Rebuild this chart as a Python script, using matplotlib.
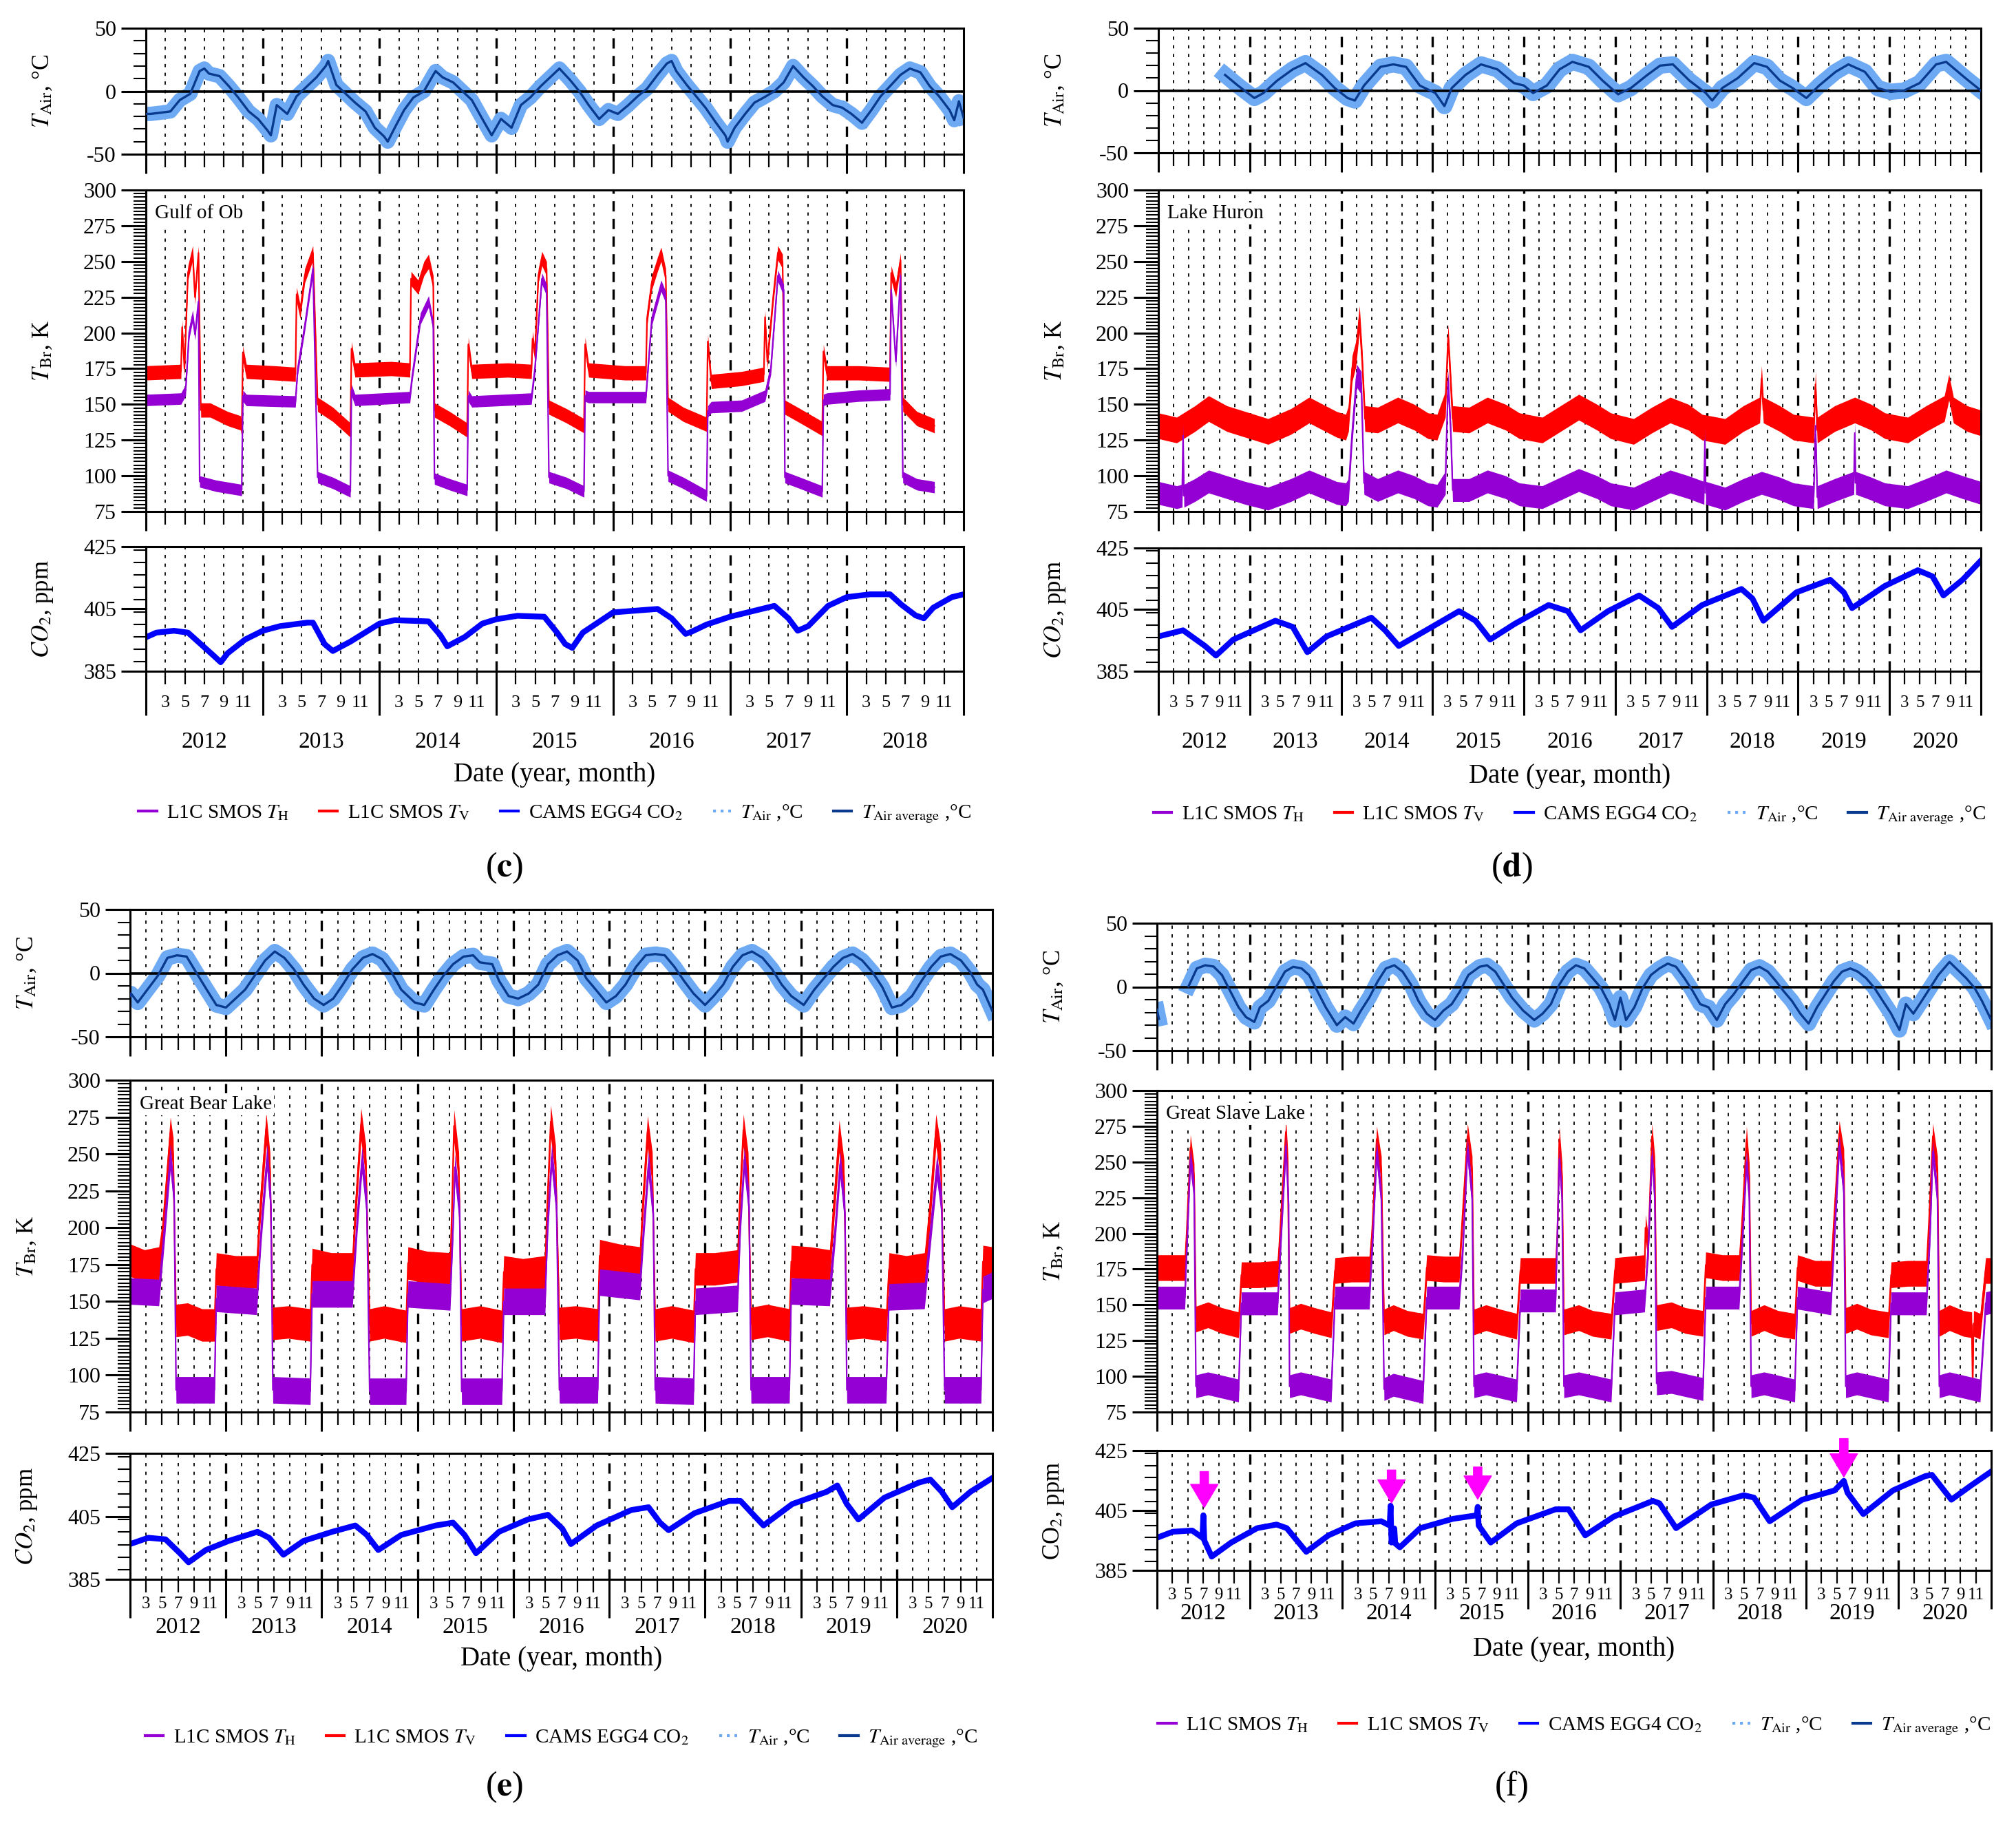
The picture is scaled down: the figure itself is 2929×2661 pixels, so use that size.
import numpy as np
import matplotlib.pyplot as plt
from matplotlib.ticker import FixedLocator, MultipleLocator, NullFormatter, FixedFormatter
from matplotlib.lines import Line2D

plt.rcParams['font.family'] = ['Liberation Serif', 'DejaVu Serif']
plt.rcParams['mathtext.fontset'] = 'stix'
plt.rcParams['axes.unicode_minus'] = False

nan = np.nan

# ---------------- data: (decimal year, value) ----------------
# (c) Gulf of Ob
tair_c = [(2012.00,-18),(2012.04,-18),(2012.13,-17),(2012.21,-16),(2012.29,-7),(2012.38,-2),(2012.46,16),(2012.50,18),
          (2012.54,14),(2012.63,12),(2012.71,4),(2012.79,-5),(2012.88,-16),(2012.96,-22),(2013.04,-31),(2013.07,-35),
          (2013.12,-11),(2013.21,-18),(2013.29,-4),(2013.38,4),(2013.46,11),(2013.54,20),(2013.56,24),(2013.63,5),
          (2013.71,-2),(2013.79,-9),(2013.88,-16),(2013.96,-29),(2014.04,-36),(2014.07,-40),(2014.13,-29),(2014.21,-15),
          (2014.29,-5),(2014.38,0),(2014.46,13),(2014.48,16),(2014.54,11),(2014.63,7),(2014.71,0),(2014.79,-7),
          (2014.88,-22),(2014.96,-35),(2015.04,-22),(2015.13,-29),(2015.21,-11),(2015.29,-5),(2015.38,4),(2015.46,11),
          (2015.54,18),(2015.63,9),(2015.71,0),(2015.79,-11),(2015.88,-22),(2015.96,-15),(2016.04,-18),(2016.13,-11),
          (2016.21,-4),(2016.29,2),(2016.38,13),(2016.46,22),(2016.50,24),(2016.54,16),(2016.63,5),(2016.71,-4),
          (2016.79,-13),(2016.88,-25),(2016.96,-35),(2016.98,-40),(2017.04,-29),(2017.13,-18),(2017.21,-9),(2017.29,-5),
          (2017.38,0),(2017.46,7),(2017.54,20),(2017.63,11),(2017.71,4),(2017.79,-4),(2017.88,-11),(2017.96,-13),
          (2018.04,-18),(2018.13,-25),(2018.21,-15),(2018.29,-4),(2018.38,5),(2018.46,13),(2018.54,18),(2018.63,15),
          (2018.71,4),(2018.79,-4),(2018.88,-15),(2018.92,-23),(2018.96,-8),(2019.00,-21)]
tv_c = [(2012.00,172),(2012.30,173),(2012.31,204),(2012.33,175),(2012.36,242),(2012.40,256),(2012.42,225),(2012.45,256),
        (2012.47,146),(2012.55,146),(2012.70,140),(2012.81,137),(2012.82,132),(2012.83,186),(2012.86,173),
        (2013.10,172),(2013.28,171),(2013.29,227),(2013.32,215),(2013.36,240),(2013.43,256),(2013.47,150),(2013.60,143),
        (2013.75,132),(2013.76,189),(2013.79,174),(2014.10,175),(2014.26,174),(2014.27,238),(2014.33,232),(2014.38,245),
        (2014.42,250),(2014.46,235),(2014.47,146),(2014.60,140),(2014.75,132),(2014.76,192),(2014.79,173),
        (2015.10,174),(2015.30,173),(2015.31,196),(2015.33,185),(2015.36,240),(2015.39,252),(2015.43,245),(2015.45,148),
        (2015.60,142),(2015.75,135),(2015.76,192),(2015.79,174),(2016.10,172),(2016.28,172),(2016.29,210),(2016.33,235),
        (2016.38,248),(2016.41,255),(2016.45,240),(2016.47,150),(2016.60,143),(2016.80,136),(2016.81,194),(2016.84,166),
        (2017.10,168),(2017.29,171),(2017.30,211),(2017.32,180),(2017.37,225),(2017.41,256),(2017.45,250),(2017.47,148),
        (2017.60,142),(2017.79,133),(2017.80,187),(2017.83,172),(2018.10,172),(2018.37,171),(2018.38,242),(2018.42,230),
        (2018.46,251),(2018.48,150),(2018.60,140),(2018.75,135)]
th_c = [(2012.00,153),(2012.30,154),(2012.34,160),(2012.37,200),(2012.40,212),(2012.42,199),(2012.45,222),(2012.46,96),
        (2012.60,93),(2012.82,90),(2012.83,156),(2012.86,153),(2013.28,152),(2013.30,175),(2013.36,205),(2013.43,245),
        (2013.47,99),(2013.60,95),(2013.75,89),(2013.76,160),(2013.79,153),(2014.26,155),(2014.28,170),(2014.35,210),
        (2014.42,222),(2014.46,205),(2014.47,98),(2014.60,94),(2014.75,90),(2014.76,156),(2014.79,152),(2015.30,154),
        (2015.33,175),(2015.39,238),(2015.43,230),(2015.45,99),(2015.60,95),(2015.75,89),(2015.76,156),(2015.79,155),
        (2016.28,155),(2016.33,209),(2016.41,233),(2016.45,225),(2016.47,100),(2016.60,95),(2016.80,86),(2016.81,145),
        (2016.84,148),(2017.10,149),(2017.30,156),(2017.35,175),(2017.41,240),(2017.46,230),(2017.47,99),(2017.60,95),
        (2017.79,89),(2017.80,153),(2017.83,154),(2018.10,156),(2018.37,157),(2018.38,230),(2018.42,180),(2018.46,240),
        (2018.48,99),(2018.60,94),(2018.75,92)]
co2_c = [(2012.00,395.9),(2012.09,397.4),(2012.24,398.0),(2012.36,397.4),(2012.47,393.7),(2012.58,390.0),(2012.64,387.9),
         (2012.70,390.8),(2012.85,395.2),(2013.00,398.0),(2013.15,399.5),(2013.38,400.6),(2013.43,400.6),(2013.53,393.7),
         (2013.60,391.5),(2013.75,394.5),(2014.00,400.3),(2014.13,401.4),(2014.42,401.0),(2014.52,396.6),(2014.58,393.0),
         (2014.73,396.0),(2014.88,400.3),(2015.00,401.7),(2015.18,402.8),(2015.41,402.5),(2015.52,397.4),(2015.59,393.7),
         (2015.65,392.5),(2015.74,397.4),(2016.00,403.9),(2016.38,405.0),(2016.50,402.0),(2016.62,397.0),(2016.66,397.5),
         (2016.80,400.0),(2017.00,402.5),(2017.38,406.0),(2017.50,402.0),(2017.58,398.0),(2017.67,399.5),(2017.84,406.0),
         (2018.00,408.8),(2018.20,409.7),(2018.37,409.7),(2018.47,406.3),(2018.59,402.9),(2018.66,402.0),(2018.74,405.4),
         (2018.90,408.8),(2019.00,409.7)]

# (d) Lake Huron
tair_d = [(2012.73,12.5),(2012.87,4),(2013.05,-6),(2013.15,-2),(2013.30,8),(2013.47,17),(2013.61,22),(2013.79,12.5),
          (2013.93,2),(2014.07,-6),(2014.15,-8),(2014.25,4),(2014.43,19),(2014.57,21),(2014.71,19),(2014.86,4),
          (2015.03,-2),(2015.13,-12.5),(2015.21,2),(2015.36,12.5),(2015.53,21),(2015.71,17),(2015.89,6),(2016.00,4),
          (2016.10,-2),(2016.25,4),(2016.39,17),(2016.53,23),(2016.71,19),(2016.86,8),(2017.03,-3),(2017.17,2),
          (2017.35,12.5),(2017.49,20),(2017.63,21),(2017.81,8),(2017.99,-2),(2018.06,-8),(2018.17,2),(2018.34,10),
          (2018.52,22),(2018.66,19),(2018.80,8),(2018.94,2),(2019.09,-6),(2019.23,4),(2019.41,15),(2019.55,21),
          (2019.73,15),(2019.87,2),(2020.01,-1),(2020.16,0),(2020.33,6),(2020.51,21),(2020.62,23),(2020.83,10),(2021.00,0)]
tv_d = [(2012.00,135),(2012.20,132),(2012.40,140),(2012.55,147),(2012.75,140),(2012.95,136),(2013.20,131),(2013.45,138),
        (2013.65,146),(2013.80,141),(2013.95,136),(2014.05,134),(2014.08,140),(2014.12,175),(2014.16,185),(2014.20,210),
        (2014.23,180),(2014.26,140),(2014.40,139),(2014.62,146),(2014.80,141),(2014.95,135),(2015.05,134),(2015.14,150),
        (2015.17,197),(2015.19,175),(2015.22,140),(2015.40,139),(2015.60,146),(2015.80,141),(2015.95,135),(2016.20,132),
        (2016.40,140),(2016.60,148),(2016.80,141),(2016.95,135),(2017.20,131),(2017.40,139),(2017.60,146),(2017.80,141),
        (2017.95,134),(2018.20,131),(2018.40,140),(2018.58,146),(2018.60,168),(2018.62,146),(2018.80,140),(2018.95,134),
        (2019.17,132),(2019.19,164),(2019.21,132),(2019.40,140),(2019.62,146),(2019.80,141),(2019.95,135),(2020.20,132),
        (2020.40,140),(2020.60,147),(2020.65,162),(2020.70,146),(2020.85,140),(2021.00,137)]
th_d = [(2012.00,88),(2012.20,85),(2012.26,86),(2012.27,128),(2012.28,86),(2012.40,90),(2012.55,96),(2012.75,92),
        (2012.95,88),(2013.20,84),(2013.45,90),(2013.65,96),(2013.80,92),(2013.95,88),(2014.05,87),(2014.08,90),
        (2014.12,130),(2014.17,170),(2014.22,165),(2014.25,95),(2014.40,90),(2014.62,96),(2014.80,92),(2014.95,87),
        (2015.05,86),(2015.14,95),(2015.17,166),(2015.20,130),(2015.22,90),(2015.40,90),(2015.60,96),(2015.80,92),
        (2015.95,87),(2016.20,85),(2016.40,91),(2016.60,97),(2016.80,92),(2016.95,87),(2017.20,84),(2017.40,90),
        (2017.60,96),(2017.80,92),(2017.97,88),(2017.98,125),(2017.99,88),(2018.20,84),(2018.40,90),(2018.60,95),
        (2018.80,91),(2018.95,87),(2019.17,85),(2019.19,135),(2019.21,85),(2019.40,90),(2019.61,95),(2019.62,130),
        (2019.63,95),(2019.80,91),(2019.95,87),(2020.20,85),(2020.40,90),(2020.62,96),(2020.80,92),(2021.00,88)]
co2_d = [(2012.00,396.3),(2012.27,398.3),(2012.51,393.2),(2012.63,390.1),(2012.82,395.3),(2013.28,401.4),(2013.47,399.4),
         (2013.63,391.2),(2013.84,396.3),(2014.33,402.4),(2014.48,398.3),(2014.63,393.2),(2014.93,398.3),(2015.29,404.5),
         (2015.47,401.4),(2015.63,395.3),(2015.90,400.4),(2016.27,406.5),(2016.48,404.5),(2016.62,398.3),(2016.92,404.5),
         (2017.26,409.6),(2017.47,405.5),(2017.62,399.4),(2017.95,406.5),(2018.38,411.7),(2018.50,408.6),(2018.62,401.4),
         (2018.98,410.6),(2019.35,414.7),(2019.50,410.6),(2019.59,405.5),(2019.95,412.7),(2020.31,417.8),(2020.47,415.8),
         (2020.59,409.6),(2020.80,414.7),(2021.00,420.9)]

# (e) Great Bear Lake
tair_e = [(2012.00,-18),(2012.01,-16),(2012.08,-23),(2012.18,-13),(2012.29,-2),(2012.39,12),(2012.49,14),(2012.59,13),
          (2012.69,0.5),(2012.80,-13),(2012.90,-25),(2013.00,-27),(2013.10,-20),(2013.20,-13),(2013.30,-2),(2013.41,10),
          (2013.51,17),(2013.61,12),(2013.71,3),(2013.81,-9),(2013.92,-20),(2014.02,-25),(2014.12,-20),(2014.22,-9),
          (2014.32,3),(2014.43,12),(2014.53,15),(2014.63,11),(2014.73,0.5),(2014.83,-13),(2014.97,-23),(2015.07,-25),
          (2015.17,-13),(2015.27,-2),(2015.37,7),(2015.48,13),(2015.58,14),(2015.65,8.5),(2015.78,7),(2015.85,-6),
          (2015.95,-18),(2016.05,-20),(2016.16,-16),(2016.26,-9),(2016.36,7),(2016.46,14),(2016.56,17),(2016.67,10),
          (2016.76,-4),(2016.86,-13),(2016.97,-23),(2017.07,-18),(2017.17,-9),(2017.28,5),(2017.38,14),(2017.48,15),
          (2017.58,14),(2017.68,5),(2017.78,-6),(2017.88,-16),(2018.00,-25),(2018.09,-18),(2018.19,-9),(2018.29,5),
          (2018.39,14),(2018.49,17),(2018.60,12),(2018.70,3),(2018.80,-9),(2018.90,-18),(2019.03,-25),(2019.14,-13),
          (2019.24,-4),(2019.34,5),(2019.44,12),(2019.54,15),(2019.64,10),(2019.75,0.5),(2019.85,-11),(2019.95,-27),
          (2020.05,-25),(2020.16,-18),(2020.26,-6),(2020.36,5),(2020.46,13),(2020.56,15),(2020.67,10),(2020.77,0.5),
          (2020.84,-9),(2020.90,-13),(2021.00,-30)]
tv_e = [(2012.00,178),(2012.15,174),(2012.30,176),(2012.33,190),(2012.38,230),(2012.42,264),(2012.45,250),(2012.48,137),
        (2012.60,138),(2012.75,134),(2012.88,134),(2012.90,172),(2013.10,170),(2013.32,170),(2013.35,206),(2013.42,267),
        (2013.46,240),(2013.49,135),(2013.65,136),(2013.88,134),(2013.90,175),(2014.10,172),(2014.32,172),(2014.35,210),
        (2014.41,270),(2014.46,245),(2014.50,134),(2014.65,136),(2014.88,133),(2014.90,176),(2015.10,173),(2015.34,172),
        (2015.36,215),(2015.38,269),(2015.43,240),(2015.46,134),(2015.65,136),(2015.88,133),(2015.90,170),(2016.10,168),
        (2016.33,170),(2016.35,210),(2016.39,272),(2016.44,245),(2016.48,135),(2016.65,136),(2016.88,134),(2016.90,181),
        (2017.10,178),(2017.32,176),(2017.35,215),(2017.40,265),(2017.45,240),(2017.48,134),(2017.65,136),(2017.88,133),
        (2017.90,172),(2018.10,172),(2018.34,174),(2018.36,215),(2018.40,266),(2018.45,240),(2018.48,135),(2018.65,137),
        (2018.88,134),(2018.90,177),(2019.10,176),(2019.30,174),(2019.34,210),(2019.40,262),(2019.45,235),(2019.48,135),
        (2019.65,136),(2019.89,134),(2019.92,172),(2020.10,170),(2020.29,172),(2020.34,206),(2020.41,266),(2020.46,245),
        (2020.50,134),(2020.65,136),(2020.88,134),(2020.90,177),(2021.00,176)]
th_e = [(2012.00,157),(2012.30,156),(2012.36,200),(2012.42,248),(2012.46,220),(2012.48,90),(2012.88,90),(2012.90,152),
        (2013.32,150),(2013.37,200),(2013.43,248),(2013.47,215),(2013.49,90),(2013.88,89),(2013.90,155),(2014.32,155),
        (2014.37,205),(2014.42,246),(2014.47,215),(2014.50,89),(2014.88,89),(2014.90,155),(2015.34,153),(2015.37,200),
        (2015.39,241),(2015.44,210),(2015.46,89),(2015.88,89),(2015.90,150),(2016.33,150),(2016.36,205),(2016.40,248),
        (2016.45,215),(2016.48,90),(2016.88,90),(2016.90,163),(2017.32,160),(2017.36,200),(2017.41,243),(2017.46,210),
        (2017.48,90),(2017.88,89),(2017.90,150),(2018.34,152),(2018.37,205),(2018.41,246),(2018.46,215),(2018.48,90),
        (2018.88,90),(2018.90,157),(2019.30,156),(2019.36,200),(2019.41,243),(2019.46,210),(2019.48,90),(2019.89,90),
        (2019.92,153),(2020.29,154),(2020.35,195),(2020.42,241),(2020.47,215),(2020.50,90),(2020.88,90),(2020.90,158),
        (2021.00,161)]
co2_e = [(2012.00,396.2),(2012.19,398.2),(2012.37,397.7),(2012.52,393.3),(2012.61,390.4),(2012.79,394.3),(2013.03,397.2),
         (2013.33,400.1),(2013.45,398.2),(2013.60,392.8),(2013.81,397.2),(2014.11,400.1),(2014.35,402.1),(2014.47,399.1),
         (2014.59,394.3),(2014.83,399.1),(2015.19,402.1),(2015.37,403.0),(2015.49,399.1),(2015.61,393.3),(2015.85,400.1),
         (2016.15,404.0),(2016.36,405.5),(2016.51,401.1),(2016.60,396.2),(2016.87,402.1),(2017.23,407.0),(2017.41,407.9),
         (2017.53,403.0),(2017.62,400.6),(2017.89,406.0),(2018.25,409.9),(2018.37,409.9),(2018.52,405.0),(2018.61,402.1),
         (2018.91,408.9),(2019.27,412.8),(2019.38,414.8),(2019.48,408.9),(2019.60,404.0),(2019.87,410.9),(2020.23,415.7),
         (2020.35,416.7),(2020.47,412.8),(2020.58,407.9),(2020.77,412.8),(2021.00,417.2)]

# (f) Great Slave Lake
tair_f = [(2012.00,-18),(2012.02,-25),(2012.03,nan),(2012.34,0.5),(2012.43,14.5),(2012.52,17),(2012.61,16),(2012.70,9.4),
          (2012.79,-3.3),(2012.88,-16),(2012.96,-23.7),(2013.05,-27.5),(2013.11,-16),(2013.20,-11),(2013.30,1.8),
          (2013.38,12),(2013.47,15.8),(2013.56,14.5),(2013.64,9.4),(2013.73,-3.3),(2013.82,-16),(2013.94,-30),
          (2014.03,-23.7),(2014.12,-28.8),(2014.20,-18.6),(2014.29,-8.4),(2014.38,4.3),(2014.47,14.5),(2014.56,17),
          (2014.65,12),(2014.74,1.8),(2014.82,-11),(2014.91,-21),(2015.00,-26),(2015.09,-18.6),(2015.18,-13.5),
          (2015.27,-3.3),(2015.36,9.4),(2015.48,15.8),(2015.56,17),(2015.65,12),(2015.74,1.8),(2015.83,-8.4),
          (2015.95,-18.6),(2016.07,-26),(2016.16,-21),(2016.25,-13.5),(2016.34,1.8),(2016.43,12),(2016.52,17),
          (2016.61,14.5),(2016.70,6.9),(2016.79,-0.8),(2016.88,-13.5),(2016.94,-26),(2017.00,-8.4),(2017.06,-26),
          (2017.15,-16),(2017.24,-0.8),(2017.33,9.4),(2017.42,14.5),(2017.51,18.3),(2017.60,15.8),(2017.69,6.9),
          (2017.78,-3.3),(2017.86,-13.5),(2017.95,-16),(2018.04,-26),(2018.13,-13.5),(2018.22,-5.9),(2018.32,4.3),
          (2018.41,13.2),(2018.50,15.8),(2018.59,12),(2018.68,4.3),(2018.76,-3.3),(2018.85,-11),(2018.94,-21),
          (2019.03,-28.8),(2019.12,-16),(2019.21,-5.9),(2019.30,4.3),(2019.39,12),(2019.48,14.5),(2019.56,12),
          (2019.65,6.9),(2019.74,-0.8),(2019.83,-11),(2019.92,-21),(2020.01,-33.8),(2020.08,-13.5),(2020.16,-21),
          (2020.25,-11),(2020.34,-0.8),(2020.43,9.4),(2020.55,19.6),(2020.64,13.2),(2020.73,6.9),(2020.82,-0.8),
          (2020.90,-11),(2021.00,-26)]
tv_f = [(2012.00,176),(2012.30,176),(2012.32,200),(2012.36,260),(2012.40,240),(2012.42,140),(2012.55,143),(2012.70,139),
        (2012.88,136),(2012.91,171),(2013.10,171),(2013.30,172),(2013.32,192),(2013.39,271),(2013.41,250),(2013.43,139),
        (2013.55,142),(2013.70,139),(2013.88,136),(2013.92,174),(2014.10,175),(2014.29,175),(2014.32,200),(2014.37,266),
        (2014.42,245),(2014.45,138),(2014.55,141),(2014.70,137),(2014.87,135),(2014.91,176),(2015.10,175),(2015.26,175),
        (2015.28,195),(2015.35,268),(2015.40,245),(2015.42,138),(2015.55,141),(2015.70,138),(2015.88,135),(2015.92,174),
        (2016.10,174),(2016.30,174),(2016.32,200),(2016.34,266),(2016.37,240),(2016.39,138),(2016.55,141),(2016.70,137),
        (2016.90,135),(2016.94,174),(2017.10,175),(2017.26,176),(2017.27,204),(2017.30,190),(2017.34,268),(2017.37,245),
        (2017.39,141),(2017.55,143),(2017.70,139),(2017.89,137),(2017.92,178),(2018.10,176),(2018.28,176),(2018.31,205),
        (2018.36,266),(2018.39,240),(2018.41,137),(2018.55,141),(2018.70,137),(2018.88,135),(2018.91,176),(2019.10,172),
        (2019.27,172),(2019.30,205),(2019.36,270),(2019.41,250),(2019.43,139),(2019.55,142),(2019.70,138),(2019.89,136),
        (2019.92,171),(2020.10,172),(2020.30,172),(2020.33,210),(2020.37,268),(2020.42,245),(2020.44,137),(2020.55,141),
        (2020.70,137),(2020.79,136),(2020.80,95),(2020.81,137),(2020.88,135),(2020.94,174),(2021.00,174)]
th_f = [(2012.00,155),(2012.30,155),(2012.36,252),(2012.40,230),(2012.42,93),(2012.55,95),(2012.88,90),(2012.91,151),
        (2013.30,151),(2013.34,200),(2013.39,261),(2013.42,220),(2013.43,93),(2013.55,95),(2013.88,90),(2013.92,155),
        (2014.29,155),(2014.33,200),(2014.37,257),(2014.42,225),(2014.45,91),(2014.55,94),(2014.87,89),(2014.91,155),
        (2015.26,155),(2015.30,190),(2015.35,259),(2015.40,225),(2015.42,93),(2015.55,95),(2015.88,90),(2015.92,153),
        (2016.30,153),(2016.34,252),(2016.37,225),(2016.39,93),(2016.55,95),(2016.90,90),(2016.94,151),(2017.26,153),
        (2017.30,190),(2017.34,254),(2017.37,225),(2017.39,95),(2017.55,96),(2017.89,91),(2017.92,155),(2018.28,155),
        (2018.32,200),(2018.36,250),(2018.39,225),(2018.41,93),(2018.55,95),(2018.88,90),(2018.91,155),(2019.27,151),
        (2019.31,200),(2019.36,261),(2019.41,230),(2019.43,93),(2019.55,95),(2019.89,90),(2019.92,151),(2020.30,151),
        (2020.34,200),(2020.37,257),(2020.42,225),(2020.44,93),(2020.55,95),(2020.88,90),(2020.94,151),(2021.00,152)]
co2_f = [(2012.00,395.9),(2012.17,397.9),(2012.38,398.3),(2012.49,395.9),(2012.50,403.4),(2012.51,395.0),(2012.59,389.6),
         (2012.80,394.3),(2013.08,399.1),(2013.29,400.3),(2013.40,399.1),(2013.61,391.2),(2013.85,396.7),(2014.14,400.7),
         (2014.42,401.4),(2014.51,400.0),(2014.52,406.6),(2014.53,394.3),(2014.56,399.0),(2014.57,394.0),(2014.62,392.7),
         (2014.84,399.1),(2015.19,402.2),(2015.45,403.4),(2015.46,406.2),(2015.47,400.0),(2015.60,394.3),(2015.88,400.7),
         (2016.30,405.4),(2016.44,405.4),(2016.62,396.7),(2016.93,403.0),(2017.35,408.2),(2017.42,407.4),(2017.60,399.1),
         (2017.98,407.0),(2018.33,410.1),(2018.44,409.3),(2018.61,401.4),(2018.96,408.6),(2019.31,411.7),(2019.41,414.9),
         (2019.45,410.9),(2019.62,403.8),(2019.94,411.7),(2020.29,416.5),(2020.36,416.9),(2020.57,408.6),(2020.78,413.3),
         (2021.00,418.0)]
# magenta arrows in (f): (year, tail ppm, tip ppm)
arrows_f = [(2012.51, 418.0, 406.0), (2014.53, 418.5, 407.5), (2015.46, 419.5, 408.8), (2019.41, 429.0, 416.2)]

month_labels = ['3', '5', '7', '9', '11']
legend_labels = [r'L1C SMOS $T_{\mathrm{H}}$', r'L1C SMOS $T_{\mathrm{V}}$', r'CAMS EGG4 CO$_2$',
                 r'$T_{\mathrm{Air}}$ ,°C', r'$T_{\mathrm{Air\ average}}$ ,°C']

# ---------------- drawing ----------------
W, H = 2929, 2661
fig = plt.figure(figsize=(W / 100, H / 100), dpi=100)
fig.patch.set_facecolor('white')

C_TH, C_TV, C_CO2 = '#9400d3', '#ff0000', '#0000ff'
C_AIR, C_AVG = '#6eaaf4', '#0a3a8e'


def xy(pairs):
    a = np.array(pairs, dtype=float)
    return a[:, 0], a[:, 1]


def new_ax(x0, x1, yt, yb, yr1):
    ax = fig.add_axes([x0 / W, 1 - yb / H, (x1 - x0) / W, (yb - yt) / H])
    for s in ax.spines.values():
        s.set_linewidth(2.2)
    ax.set_xlim(2012, yr1)
    ax.xaxis.set_major_locator(FixedLocator(list(range(2012, yr1 + 1))))
    ax.xaxis.set_minor_locator(FixedLocator([yr + m / 12 for yr in range(2012, yr1) for m in (2, 4, 6, 8, 10)]))
    ax.xaxis.set_major_formatter(NullFormatter())
    ax.xaxis.set_minor_formatter(NullFormatter())
    ax.tick_params(axis='x', which='major', length=20, width=2.2)
    ax.tick_params(axis='x', which='minor', length=14, width=1.6)
    ax.tick_params(axis='y', which='major', length=26, width=2.2, labelsize=23, pad=5)
    ax.tick_params(axis='y', which='minor', length=13, width=1.5)
    for yr in range(2012, yr1):
        if yr > 2012:
            ax.axvline(yr, color='k', lw=2.4, ls=(0, (4.5, 3.2)), zorder=1)
        for m in (2, 4, 6, 8, 10):
            ax.axvline(yr + m / 12, color='k', lw=1.3, ls=(0, (2.6, 4.4)), zorder=1)
    ax.yaxis.set_label_coords(-150 / (x1 - x0), 0.5)
    return ax


def band(ax, pairs, hw, color, z):
    t, v = xy(pairs)
    ax.fill_between(t, v - hw, v + hw, color=color, lw=0, zorder=z)
    ax.plot(t, v, color=color, lw=1.6, zorder=z)


def draw_panel(x0, x1, rows, yr1, tair, th, tv, co2, hw_th, hw_tv, air_lw, site, co2_lab,
               bot, tag, tag_x):
    a1 = new_ax(x0, x1, rows[0][0], rows[0][1], yr1)
    a1.set_ylim(-50, 50)
    a1.yaxis.set_major_locator(FixedLocator([-50, 0, 50]))
    a1.yaxis.set_minor_locator(MultipleLocator(10))
    t, v = xy(tair)
    a1.plot(t, v, color=C_AIR, lw=air_lw, zorder=2, solid_joinstyle='round')
    a1.axhline(0, color='k', lw=2.6, zorder=2.5)
    a1.plot(t, v, color=C_AVG, lw=2.4, zorder=3)
    a1.set_ylabel(r'$T_{\mathrm{Air}}$, °C', fontsize=25)
    a1.yaxis.label.set_va('center')

    a2 = new_ax(x0, x1, rows[1][0], rows[1][1], yr1)
    a2.set_ylim(75, 300)
    a2.yaxis.set_major_locator(FixedLocator(list(range(75, 301, 25))))
    a2.yaxis.set_minor_locator(MultipleLocator(2.5))
    band(a2, tv, hw_tv, C_TV, 2)
    band(a2, th, hw_th, C_TH, 2.2)
    a2.text(0.011, 0.955, site, transform=a2.transAxes, ha='left', va='top', fontsize=21, zorder=4,
            bbox=dict(fc='white', ec='none', pad=2))
    a2.set_ylabel(r'$T_{\mathrm{Br}}$, K', fontsize=25)
    a2.yaxis.label.set_va('center')

    a3 = new_ax(x0, x1, rows[2][0], rows[2][1], yr1)
    a3.set_ylim(385, 425)
    a3.yaxis.set_major_locator(FixedLocator([385, 405, 425]))
    a3.yaxis.set_minor_locator(MultipleLocator(4))
    t, v = xy(co2)
    a3.plot(t, v, color=C_CO2, lw=6, zorder=2)
    a3.set_ylabel(co2_lab, fontsize=25)
    a3.yaxis.label.set_va('center')
    a3.xaxis.set_minor_formatter(FixedFormatter(month_labels * (yr1 - 2012)))
    a3.tick_params(axis='x', which='major', length=bot['ylen'])
    a3.tick_params(axis='x', which='minor', pad=bot['mpad'], labelsize=bot['mfs'])
    for yr in range(2012, yr1):
        a3.annotate(str(yr), xy=(yr + 0.5, 0), xycoords=('data', 'axes fraction'), xytext=(0, -bot['ydy']),
                    textcoords='offset points', ha='center', va='center', fontsize=24)
    cx = (x0 + x1) / 2 / W
    fig.text(cx, 1 - bot['date'] / H, 'Date (year, month)', ha='center', va='center', fontsize=28)
    handles = [Line2D([], [], color=C_TH, lw=3), Line2D([], [], color=C_TV, lw=3),
               Line2D([], [], color=C_CO2, lw=3), Line2D([], [], color=C_AIR, lw=3, ls=':'),
               Line2D([], [], color=C_AVG, lw=3)]
    fig.legend(handles, legend_labels, loc='center', bbox_to_anchor=(cx, 1 - bot['leg'] / H), ncol=5,
               frameon=False, fontsize=21, handlelength=0.9, handletextpad=0.5, columnspacing=1.5)
    fig.text(tag_x, 1 - bot['tag'] / H, tag, ha='center', va='center', fontsize=36)
    return a3


draw_panel(212, 1400, [(41, 224), (276, 743), (794, 975)], 2019, tair_c, th_c, tv_c, co2_c, 4, 5, 15,
           'Gulf of Ob', r'$CO_2$, ppm',
           dict(ylen=46, mpad=11, mfs=19, ydy=74, date=1125, leg=1182, tag=1261), r'($\mathbf{c}$)', 0.25)
draw_panel(1683, 2878, [(41, 222), (276, 743), (796, 975)], 2021, tair_d, th_d, tv_d, co2_d, 8, 9, 17,
           'Lake Huron', r'$CO_2$, ppm',
           dict(ylen=46, mpad=11, mfs=18, ydy=74, date=1127, leg=1184, tag=1261), r'($\mathbf{d}$)', 0.75)
draw_panel(189, 1442, [(1321, 1506), (1569, 2051), (2111, 2294)], 2021, tair_e, th_e, tv_e, co2_e, 9, 11, 16,
           'Great Bear Lake', r'$CO_2$, ppm',
           dict(ylen=40, mpad=4, mfs=18, ydy=50, date=2409, leg=2525, tag=2596), r'($\mathbf{e}$)', 0.25)
a3f = draw_panel(1681, 2893, [(1341, 1526), (1584, 2051), (2107, 2281)], 2021, tair_f, th_f, tv_f, co2_f, 8, 9, 16,
                 'Great Slave Lake', r'CO$_2$, ppm',
                 dict(ylen=40, mpad=4, mfs=18, ydy=45, date=2395, leg=2507, tag=2596), '(f)', 0.75)
for t, tail, tip in arrows_f:
    a3f.annotate('', xy=(t, tip), xytext=(t, tail), annotation_clip=False,
                 arrowprops=dict(arrowstyle='simple,head_width=1.3,head_length=1.1,tail_width=0.4',
                                 color='#ff00ff', mutation_scale=22, shrinkA=0, shrinkB=0), zorder=5)

fig.savefig('out.png', dpi=100)
